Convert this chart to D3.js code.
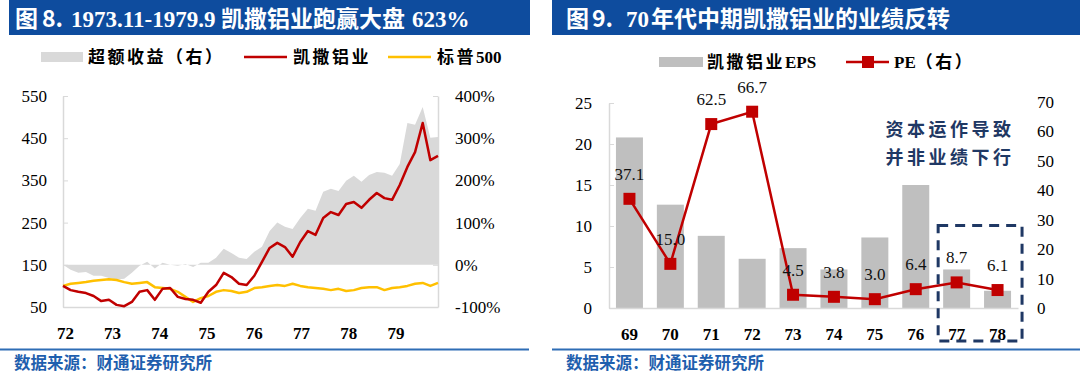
<!DOCTYPE html>
<html>
<head>
<meta charset="utf-8">
<script src="https://cdn.jsdelivr.net/npm/d3@7"></script>
<style>
  body { margin: 0; background: #fff; }
  svg { display: block; }
</style>
</head>
<body>
<svg id="chart" width="1080" height="376"></svg>
<script>
// ---------- data: left chart (Kaiser vs S&P 500, index, bi-monthly samples) ----------
const yearTicks = [72, 73, 74, 75, 76, 77, 78, 79];
const kaiser = [100, 90, 86, 83, 76, 64, 67, 55, 52, 62,
                86, 90, 67, 93, 95, 74, 69, 67, 60, 86,
                102, 131, 121, 105, 102, 124, 157, 190, 202, 192,
                169, 204, 230, 221, 261, 275, 268, 294, 299, 285,
                304, 320, 308, 304, 339, 382, 417, 486, 398, 408];
const sp500 = [100, 105, 107, 109, 112, 114, 116, 114, 109, 105,
               107, 109, 97, 95, 93, 86, 74, 62, 71, 76,
               86, 90, 88, 83, 86, 95, 97, 100, 102, 100,
               105, 100, 97, 95, 93, 90, 93, 88, 90, 95,
               97, 97, 90, 95, 97, 100, 105, 107, 100, 107];
// excess return, % (right axis)
const excess = [0, -12, -19, -17, -26, -26, -31, -35, -33, -19,
                -2, 7, -9, 5, 0, -2, 2, -5, 5, 5,
                17, 38, 28, 17, 14, 31, 43, 80, 100, 90,
                85, 111, 133, 128, 173, 180, 175, 199, 211, 197,
                213, 220, 218, 211, 239, 336, 332, 374, 301, 303];
const leftTicks = [50, 150, 250, 350, 450, 550];
const rightTicks = [-100, 0, 100, 200, 300, 400];

// ---------- data: right chart (EPS bars, PE line) ----------
const eraYears = ['69', '70', '71', '72', '73', '74', '75', '76', '77', '78'];
const eps = [20.8, 12.6, 8.8, 6.0, 7.3, 4.7, 8.6, 15.0, 4.7, 2.1];
const pe = [37.1, 15.0, 62.5, 66.7, 4.5, 3.8, 3.0, 6.4, 8.7, 6.1];

const svg = d3.select('#chart');
const cjk = '"Noto Sans CJK SC", sans-serif';
const serif = '"Liberation Serif", "Noto Sans CJK SC", serif';
const red = '#c00000';
const gold = '#ffc000';
const axisGray = '#d9d9d9';

// title bars, each part placed at its own x
const titleBar = (x, w, parts) => {
  svg.append('rect')
    .attr('x', x).attr('y', 0)
    .attr('width', w).attr('height', 35)
    .attr('fill', '#0e4c9e');
  const t = svg.append('text')
    .attr('y', 27)
    .attr('fill', '#fff')
    .attr('font-size', 23)
    .attr('font-weight', 'bold');
  parts.forEach(p => t.append('tspan').attr('x', p.x).attr('font-family', p.f).text(p.s));
};
titleBar(9, 521, [
  { s: '图', f: cjk, x: 15 },
  { s: '8.', f: cjk, x: 42 },
  { s: '1973.11-1979.9', f: serif, x: 71 },
  { s: '凯撒铝业跑赢大盘', f: cjk, x: 221 },
  { s: '623%', f: serif, x: 412 }
]);
titleBar(552, 528, [
  { s: '图', f: cjk, x: 566 },
  { s: '9.', f: cjk, x: 592 },
  { s: '70', f: serif, x: 626 },
  { s: '年代中期凯撒铝业的业绩反转', f: cjk, x: 651 }
]);

// axis styling helper
const styleAxis = (g, showDomain) => {
  g.selectAll('text')
    .attr('font-family', serif)
    .attr('font-size', 17)
    .attr('fill', '#000');
  g.selectAll('line').attr('stroke', axisGray);
  if (showDomain) g.select('.domain').attr('stroke', axisGray).attr('stroke-width', 1.5);
  else g.select('.domain').remove();
};

// ================= LEFT CHART =================
const L = { left: 63, right: 438, top: 96, bottom: 307 };
const dates = d3.range(kaiser.length).map(i => 71.96 + i * (79.9 - 71.96) / (kaiser.length - 1));

const xL = d3.scaleLinear().domain([71.96, 79.9]).range([L.left, L.right]);
const yL = d3.scaleLinear().domain([50, 550]).range([L.bottom, L.top]);
const yR = d3.scaleLinear().domain([-100, 400]).range([L.bottom, L.top]);

// excess return area
svg.append('path')
  .datum(excess)
  .attr('fill', '#d9d9d9')
  .attr('d', d3.area()
    .x((d, i) => xL(dates[i]))
    .y0(yR(0))
    .y1(d => yR(d)));

// axes
const gLeftAxis = svg.append('g')
  .attr('transform', `translate(${L.left},0)`)
  .call(d3.axisLeft(yL).tickValues(leftTicks).tickSizeInner(-5).tickSizeOuter(0).tickPadding(16));
styleAxis(gLeftAxis, true);

const gRightAxis = svg.append('g')
  .attr('transform', `translate(${L.right},0)`)
  .call(d3.axisRight(yR).tickValues(rightTicks).tickSizeInner(-5).tickSizeOuter(0).tickPadding(17)
    .tickFormat(d => d + '%'));
styleAxis(gRightAxis, true);

const gBottomL = svg.append('g')
  .attr('transform', `translate(0,${L.bottom})`)
  .call(d3.axisBottom(xL).tickValues(yearTicks).tickSize(0).tickPadding(20).tickFormat(d => d));
styleAxis(gBottomL, true);
gBottomL.selectAll('text').attr('font-weight', 'bold');

// lines
const lineL = d3.line()
  .x((d, i) => xL(dates[i]))
  .y(d => yL(d));

svg.append('path')
  .datum(sp500)
  .attr('fill', 'none')
  .attr('stroke', gold)
  .attr('stroke-width', 2.5)
  .attr('stroke-linejoin', 'round')
  .attr('d', lineL);

svg.append('path')
  .datum(kaiser)
  .attr('fill', 'none')
  .attr('stroke', red)
  .attr('stroke-width', 2.5)
  .attr('stroke-linejoin', 'round')
  .attr('d', lineL);

// legend text: CJK part spaced out, latin part tight
const legendText = (x, y, cn, latin) => {
  const t = svg.append('text')
    .attr('x', x).attr('y', y)
    .attr('font-family', serif)
    .attr('font-size', 17)
    .attr('font-weight', 'bold')
    .attr('fill', '#000');
  t.append('tspan').attr('letter-spacing', 2.5).text(cn);
  if (latin) t.append('tspan').text(latin);
};

svg.append('rect').attr('x', 41).attr('y', 52).attr('width', 42).attr('height', 10).attr('fill', '#d9d9d9');
legendText(88, 63, '超额收益（右）');
svg.append('line').attr('x1', 244).attr('x2', 287).attr('y1', 57).attr('y2', 57)
  .attr('stroke', red).attr('stroke-width', 2.5);
legendText(293, 63, '凯撒铝业');
svg.append('line').attr('x1', 388).attr('x2', 431).attr('y1', 57).attr('y2', 57)
  .attr('stroke', gold).attr('stroke-width', 2.5);
legendText(437, 63, '标普', '500');

// ================= RIGHT CHART =================
const R = { left: 609, right: 1018, bottom: 308 };
const xB = d3.scaleBand().domain(eraYears).range([R.left, R.right]).paddingInner(0.34).paddingOuter(0.17);
const yE = d3.scaleLinear().domain([0, 25]).range([R.bottom, 103]);
const yP = d3.scaleLinear().domain([0, 70]).range([R.bottom, 102]);

// bars
svg.append('g')
  .selectAll('rect')
  .data(eps)
  .join('rect')
    .attr('x', (d, i) => xB(eraYears[i]))
    .attr('y', d => yE(d))
    .attr('width', xB.bandwidth())
    .attr('height', d => yE(0) - yE(d))
    .attr('fill', '#bfbfbf');

const gLeftAxisR = svg.append('g')
  .attr('transform', `translate(${R.left},0)`)
  .call(d3.axisLeft(yE).tickValues([0, 5, 10, 15, 20, 25]).tickSizeInner(-5).tickSizeOuter(0).tickPadding(17));
styleAxis(gLeftAxisR, true);

const gRightAxisR = svg.append('g')
  .attr('transform', `translate(${R.right},0)`)
  .call(d3.axisRight(yP).tickValues(d3.range(0, 71, 10)).tickSize(0).tickPadding(19));
styleAxis(gRightAxisR, false);

const gBottomR = svg.append('g')
  .attr('transform', `translate(0,${R.bottom})`)
  .call(d3.axisBottom(xB).tickSize(0).tickPadding(20));
styleAxis(gBottomR, true);
gBottomR.selectAll('text').attr('font-weight', 'bold');

// PE line with square markers
const cx = (d, i) => xB(eraYears[i]) + xB.bandwidth() / 2;
svg.append('path')
  .datum(pe)
  .attr('fill', 'none')
  .attr('stroke', red)
  .attr('stroke-width', 2.5)
  .attr('d', d3.line().x(cx).y(d => yP(d)));

svg.append('g')
  .selectAll('rect')
  .data(pe)
  .join('rect')
    .attr('x', (d, i) => cx(d, i) - 6)
    .attr('y', d => yP(d) - 6)
    .attr('width', 12)
    .attr('height', 12)
    .attr('fill', red);

svg.append('g')
  .selectAll('text')
  .data(pe)
  .join('text')
    .attr('x', cx)
    .attr('y', d => yP(d) - 19)
    .attr('text-anchor', 'middle')
    .attr('font-family', serif)
    .attr('font-size', 17)
    .attr('fill', '#111')
    .text(d => d.toFixed(1));

// dashed box round the last two years
const boxX0 = xB('77') - 5;
const boxX1 = xB('78') + xB.bandwidth() + 11;
svg.append('rect')
  .attr('x', boxX0)
  .attr('y', yP(28))
  .attr('width', boxX1 - boxX0)
  .attr('height', 341 - yP(28))
  .attr('fill', 'none')
  .attr('stroke', '#1f3864')
  .attr('stroke-width', 3)
  .attr('stroke-dasharray', '10,7');

// annotation
['资本运作导致', '并非业绩下行'].forEach((s, i) => {
  svg.append('text')
    .attr('x', 950).attr('y', 136 + i * 28)
    .attr('text-anchor', 'middle')
    .attr('font-family', cjk)
    .attr('font-size', 18)
    .attr('font-weight', 'bold')
    .attr('letter-spacing', 3.5)
    .attr('fill', '#1f3864')
    .text(s);
});

// legend
svg.append('rect').attr('x', 659).attr('y', 57).attr('width', 44).attr('height', 10).attr('fill', '#bfbfbf');
legendText(707, 68, '凯撒铝业', 'EPS');
svg.append('line').attr('x1', 846).attr('x2', 889).attr('y1', 62).attr('y2', 62)
  .attr('stroke', red).attr('stroke-width', 2.5);
svg.append('rect').attr('x', 862).attr('y', 56).attr('width', 12).attr('height', 12).attr('fill', red);
const peLegend = svg.append('text')
  .attr('x', 894).attr('y', 68)
  .attr('font-family', serif)
  .attr('font-size', 17)
  .attr('font-weight', 'bold');
peLegend.append('tspan').text('PE');
peLegend.append('tspan').attr('letter-spacing', 2.5).text('（右）');

// ================= FOOTERS =================
[[0, 529, 14], [552, 1080, 566]].forEach(([x0, x1, tx]) => {
  svg.append('line')
    .attr('x1', x0).attr('x2', x1)
    .attr('y1', 349.5).attr('y2', 349.5)
    .attr('stroke', '#2e6db5')
    .attr('stroke-width', 2);
  svg.append('text')
    .attr('x', tx).attr('y', 369)
    .attr('font-family', cjk)
    .attr('font-size', 16.5)
    .attr('font-weight', 'bold')
    .attr('fill', '#1f5fae')
    .text('数据来源：财通证券研究所');
});
</script>
</body>
</html>
